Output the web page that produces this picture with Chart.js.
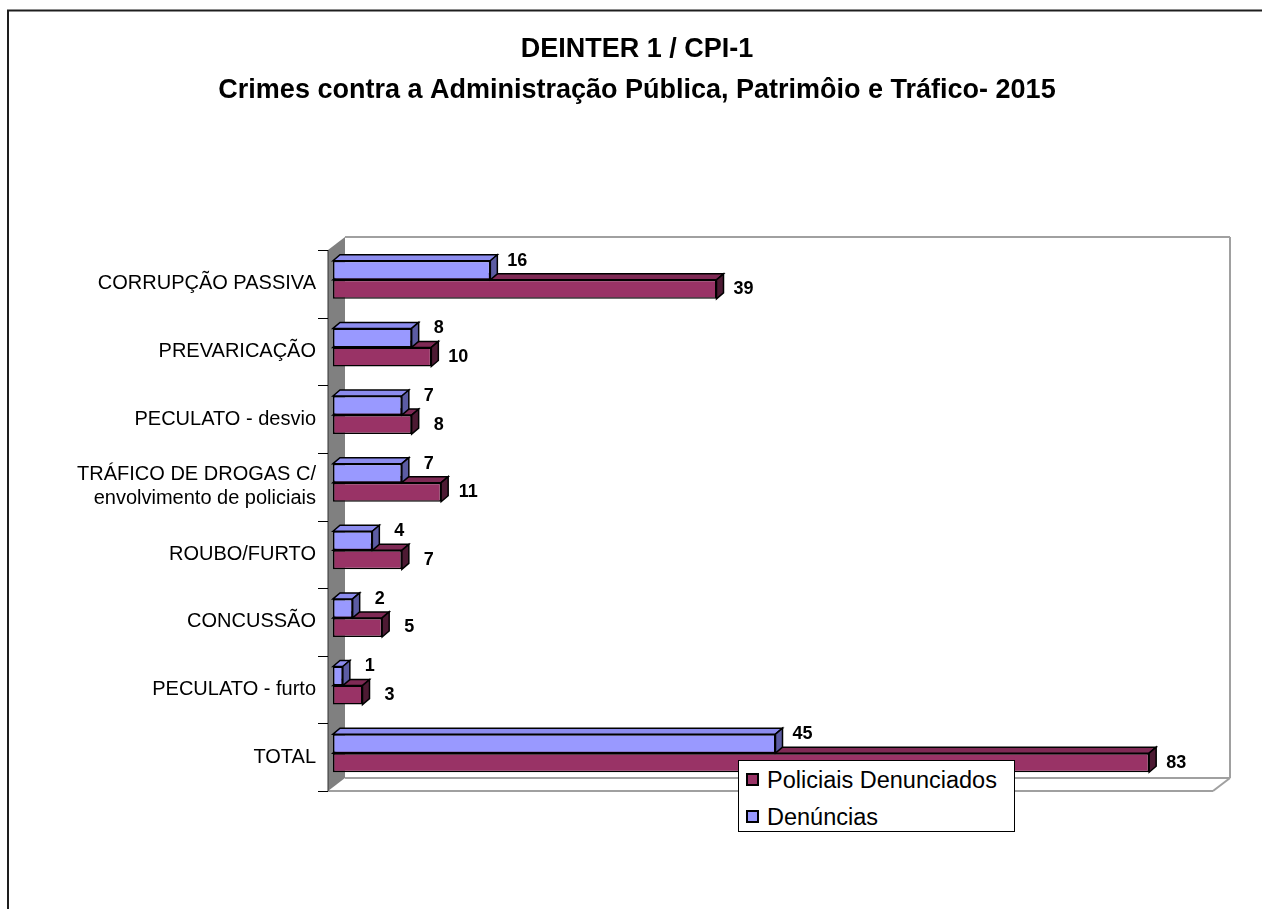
<!DOCTYPE html>
<html>
<head>
<meta charset="utf-8">
<script src="https://cdn.jsdelivr.net/npm/chart.js@4/dist/chart.umd.min.js"></script>
<style>
  html, body { margin: 0; padding: 0; background: #fff; }
  #wrap { position: relative; width: 1262px; height: 909px; overflow: hidden; }
  #c { position: absolute; left: 0; top: 0; }
  #legend { position: absolute; left: 738px; top: 760px; width: 277px; height: 72px; box-sizing: border-box;
            border: 1px solid #000; background: #fff; font-family: "Liberation Sans", Arial, sans-serif; font-size: 23.5px; color: #000; }
  .row { position: absolute; left: 7px; height: 28px; line-height: 28px; white-space: nowrap; }
  .sw { position: absolute; left: 0; top: 7px; width: 13px; height: 13px; box-sizing: border-box; border: 2px solid #000; }
  .tx { position: absolute; left: 21px; top: 0; }
</style>
</head>
<body>
<div id="wrap">
  <canvas id="c" width="1262" height="909"></canvas>
  <div id="legend"></div>
</div>
<script>
const categories = [
  'CORRUPÇÃO PASSIVA',
  'PREVARICAÇÃO',
  'PECULATO - desvio',
  ['TRÁFICO DE DROGAS C/', 'envolvimento de policiais'],
  'ROUBO/FURTO',
  'CONCUSSÃO',
  'PECULATO - furto',
  'TOTAL'
];
const denuncias = [16, 8, 7, 7, 4, 2, 1, 45];
const policiaisDenunciados = [39, 10, 8, 11, 7, 5, 3, 83];
const seriesNames = ['Denúncias', 'Policiais Denunciados'];
const titleLines = ['DEINTER 1 / CPI-1', 'Crimes contra a Administração Pública, Patrimôio e Tráfico- 2015'];

const FONT = '"Liberation Sans", Arial, sans-serif';
const colors = [
  { front: '#9999FF', top: '#8C8CEE', side: '#5C5CA3' },
  { front: '#993366', top: '#7F2A55', side: '#4D1A33' }
];

const BAR_D = { x: 7, y: -6 };
const WALL_D = { x: 17, y: -13 };
const FRONT_OFF = { x: -5, y: 4 };

function poly(ctx, pts, fill, stroke, lw) {
  ctx.beginPath();
  ctx.moveTo(pts[0][0], pts[0][1]);
  for (let i = 1; i < pts.length; i++) ctx.lineTo(pts[i][0], pts[i][1]);
  ctx.closePath();
  if (fill) { ctx.fillStyle = fill; ctx.fill(); }
  if (stroke) { ctx.strokeStyle = stroke; ctx.lineWidth = lw; ctx.lineJoin = 'miter'; ctx.stroke(); }
}
function line(ctx, x1, y1, x2, y2, color, lw) {
  ctx.beginPath(); ctx.moveTo(x1, y1); ctx.lineTo(x2, y2);
  ctx.strokeStyle = color; ctx.lineWidth = lw; ctx.stroke();
}

const threeD = {
  id: 'threeD',
  beforeDraw(chart) {
    const ctx = chart.ctx;
    ctx.save();
    ctx.fillStyle = '#fff';
    ctx.fillRect(0, 0, chart.width, chart.height);
    ctx.beginPath();
    ctx.moveTo(8, chart.height + 2); ctx.lineTo(8, 10.5); ctx.lineTo(chart.width + 2, 10.5);
    ctx.strokeStyle = '#1e1e1e'; ctx.lineWidth = 2; ctx.stroke();
    ctx.restore();
  },
  beforeDatasetsDraw(chart) {
    const ctx = chart.ctx;
    const a = chart.chartArea;
    const fl = a.left + FRONT_OFF.x, fr = a.right + FRONT_OFF.x;
    const ft = a.top + FRONT_OFF.y, fb = a.bottom + FRONT_OFF.y;
    const dx = WALL_D.x, dy = WALL_D.y;
    ctx.save();
    const g = '#A0A0A0';
    line(ctx, fl + dx, ft + dy, fr + dx, ft + dy, g, 2);
    line(ctx, fr + dx, ft + dy, fr + dx, fb + dy, g, 2);
    line(ctx, fl + dx, fb + dy, fr + dx, fb + dy, g, 2);
    line(ctx, fl, fb, fr, fb, g, 2);
    line(ctx, fr, fb, fr + dx, fb + dy, g, 2);
    poly(ctx, [[fl, ft], [fl + dx, ft + dy], [fl + dx, fb + dy], [fl, fb]], '#808080', null, 0);
    line(ctx, fl, ft, fl, fb, '#303030', 1);
    const n = categories.length;
    for (let i = 0; i <= n; i++) {
      const y = Math.round(ft + i * (fb - ft) / n) + 0.5;
      line(ctx, fl - 10, y, fl, y, '#000', 1);
    }
    [1, 0].forEach(di => {
      const meta = chart.getDatasetMeta(di);
      const c = colors[di];
      meta.data.forEach(el => {
        const p = el.getProps(['x', 'y', 'base', 'height'], true);
        const l = p.base, r = p.x, t = p.y - p.height / 2, b = p.y + p.height / 2;
        poly(ctx, [[l, t], [l + BAR_D.x, t + BAR_D.y], [r + BAR_D.x, t + BAR_D.y], [r, t]], c.top, '#000', 1.5);
        poly(ctx, [[r, t], [r + BAR_D.x, t + BAR_D.y], [r + BAR_D.x, b + BAR_D.y], [r, b]], c.side, '#000', 1.5);
      });
    });
    ctx.restore();
  },
  afterDatasetsDraw(chart) {
    const ctx = chart.ctx;
    ctx.save();
    ctx.font = 'bold 18px ' + FONT;
    ctx.fillStyle = '#000';
    ctx.textAlign = 'center';
    ctx.textBaseline = 'middle';
    [0, 1].forEach(di => {
      const meta = chart.getDatasetMeta(di);
      const data = chart.data.datasets[di].data;
      meta.data.forEach((el, i) => {
        const p = el.getProps(['x', 'y', 'height'], true);
        const y = di === 0 ? p.y - p.height / 2 : p.y;
        ctx.fillText(String(data[i]), p.x + 27, y);
      });
    });
    ctx.restore();
  }
};

const chart = new Chart(document.getElementById('c'), {
  type: 'bar',
  data: {
    labels: categories,
    datasets: [
      { label: seriesNames[0], data: denuncias, backgroundColor: colors[0].front, borderColor: '#000', borderWidth: 1.5, borderSkipped: false },
      { label: seriesNames[1], data: policiaisDenunciados, backgroundColor: colors[1].front, borderColor: '#000', borderWidth: 1.5, borderSkipped: false }
    ]
  },
  options: {
    indexAxis: 'y',
    responsive: false,
    devicePixelRatio: 1,
    animation: false,
    events: [],
    categoryPercentage: 0.563,
    barPercentage: 1.0,
    layout: { padding: { left: 12, right: 0, top: 0, bottom: 122 } },
    scales: {
      x: { min: 0, max: 90, display: false },
      y: {
        grid: { display: false, drawTicks: false },
        border: { display: false },
        ticks: { font: { family: FONT, size: 20, lineHeight: 1.2 }, color: '#000', padding: 17, labelOffset: 4, autoSkip: false },
        afterFit(s) { s.width = 321; }
      },
      yRight: {
        type: 'category', position: 'right', labels: categories,
        grid: { display: false, drawTicks: false }, border: { display: false },
        ticks: { display: false },
        afterFit(s) { s.width = 44; }
      }
    },
    plugins: {
      legend: { display: false },
      tooltip: { enabled: false },
      title: {
        display: true,
        text: titleLines,
        color: '#000',
        font: { family: FONT, size: 27, weight: 'bold', lineHeight: 41 / 27 },
        padding: { top: 29, bottom: 135 }
      }
    }
  },
  plugins: [threeD]
});

const legend = document.getElementById('legend');
const order = [1, 0];
order.forEach((di, k) => {
  const row = document.createElement('div');
  row.className = 'row';
  row.style.top = (5 + k * 37) + 'px';
  const sw = document.createElement('div');
  sw.className = 'sw';
  sw.style.background = colors[di].front;
  const tx = document.createElement('span');
  tx.className = 'tx';
  tx.textContent = chart.data.datasets[di].label;
  row.appendChild(sw); row.appendChild(tx);
  legend.appendChild(row);
});
</script>
</body>
</html>
